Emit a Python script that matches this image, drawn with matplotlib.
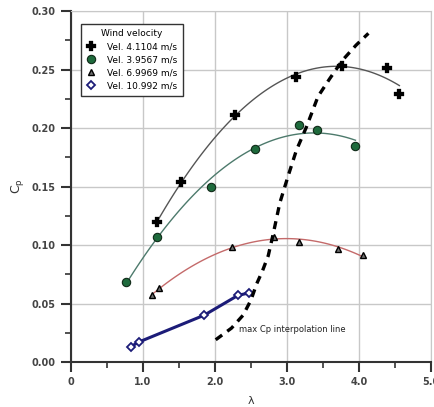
import numpy as np
import matplotlib
matplotlib.use("Agg")
import matplotlib.pyplot as plt
from matplotlib.ticker import MultipleLocator

# Data
lam_v1 = [1.20, 1.53, 2.28, 3.13, 3.77, 4.39, 4.56]
cp_v1 = [0.120, 0.154, 0.211, 0.2436, 0.253, 0.251, 0.229]

lam_v2 = [0.76, 1.20, 1.94, 2.55, 3.16, 3.42, 3.95]
cp_v2 = [0.068, 0.107, 0.150, 0.182, 0.2026, 0.198, 0.185]

lam_v3 = [1.13, 1.22, 2.23, 2.82, 3.16, 3.71, 4.05]
cp_v3 = [0.057, 0.063, 0.098, 0.107, 0.103, 0.097, 0.0915]

lam_v4 = [0.83, 0.94, 1.85, 2.32, 2.47]
cp_v4 = [0.013, 0.017, 0.040, 0.057, 0.059]

# max Cp interpolation line
lam_max = [2.01, 2.23, 2.39, 2.50, 2.58, 2.66, 2.74, 2.81, 2.90, 3.01,
           3.13, 3.27, 3.43, 3.59, 3.77, 3.96, 4.13]
cp_max = [0.019, 0.029, 0.040, 0.053, 0.067, 0.078, 0.091, 0.110, 0.136, 0.158,
          0.181, 0.201, 0.227, 0.242, 0.258, 0.271, 0.281]

labels = ["Vel. 4.1104 m/s", "Vel. 3.9567 m/s", "Vel. 6.9969 m/s", "Vel. 10.992 m/s"]


def trend(lam, cp, deg=2):
    # quadratic trend line through the measured points
    coef = np.polyfit(lam, cp, deg)
    xs = np.linspace(min(lam), max(lam), 100)
    return xs, np.polyval(coef, xs)


fig = plt.figure(figsize=(4.35, 4.07), dpi=100)
ax = fig.add_axes([0.163, 0.1106, 0.828, 0.862])

# trend lines
xs, ys = trend(lam_v1, cp_v1)
ax.plot(xs, ys, color="#555555", lw=1.0, zorder=2)
xs, ys = trend(lam_v2, cp_v2)
ax.plot(xs, ys, color="#4d7a6c", lw=1.0, zorder=2)
xs, ys = trend(lam_v3, cp_v3)
ax.plot(xs, ys, color="#c46a6a", lw=1.0, zorder=2)
ax.plot(lam_v4, cp_v4, color="#1c1c78", lw=2.2, zorder=2)

# markers
ax.plot(lam_v1, cp_v1, ls="none", marker="P", ms=7, mfc="black", mec="black",
        mew=0.2, label=labels[0], zorder=3)
ax.plot(lam_v2, cp_v2, ls="none", marker="o", ms=6, mfc="#1e6a3c", mec="#102a18",
        mew=0.8, label=labels[1], zorder=3)
ax.plot(lam_v3, cp_v3, ls="none", marker="^", ms=5, mfc="#707070", mec="black",
        mew=1.0, label=labels[2], zorder=3)
ax.plot(lam_v4, cp_v4, ls="none", marker="D", ms=4, mfc="white", mec="#1c1c78",
        mew=1.3, label=labels[3], zorder=3)

# interpolation line
ax.plot(lam_max, cp_max, color="black", lw=2.4, ls=(0, (2.4, 1.9)), zorder=4)
ax.text(2.33, 0.028, "max Cp interpolation line", fontsize=6, color="#222222",
        va="center", ha="left")

ax.set_xlim(0, 5.0)
ax.set_ylim(0, 0.30)
ax.xaxis.set_minor_locator(MultipleLocator(0.5))
ax.yaxis.set_minor_locator(MultipleLocator(0.025))
ax.set_xticks([0, 1, 2, 3, 4, 5])
ax.set_xticklabels(["0", "1.0", "2.0", "3.0", "4.0", "5.0"])
ax.set_yticks([0, 0.05, 0.10, 0.15, 0.20, 0.25, 0.30])
ax.set_yticklabels(["0.00", "0.05", "0.10", "0.15", "0.20", "0.25", "0.30"])

ax.grid(True, which="major", color="#c8c8c8", lw=1.0)
ax.set_axisbelow(True)
for s in ["top", "right"]:
    ax.spines[s].set_color("#c8c8c8")
for s in ["left", "bottom"]:
    ax.spines[s].set_color("#333333")
    ax.spines[s].set_linewidth(1.5)

ax.tick_params(which="major", length=7, width=1.5, color="#333333",
               labelsize=7, labelcolor="#444444", pad=4)
ax.tick_params(which="minor", length=4, width=1.2, color="#333333")
for t in ax.get_xticklabels() + ax.get_yticklabels():
    t.set_fontweight("bold")

ax.set_xlabel("λ", fontsize=8, color="#333333", labelpad=6)
ax.set_ylabel(r"C$_\mathrm{p}$", fontsize=9, color="#333333", labelpad=4)

leg = ax.legend(loc="upper left", bbox_to_anchor=(0.02, 0.972), title="Wind velocity",
                fontsize=6.5, title_fontsize=6.5, frameon=True, fancybox=False,
                edgecolor="#333333", framealpha=1, handlelength=1.0,
                handletextpad=1.3, borderpad=0.6, labelspacing=0.45,
                borderaxespad=0.3)
leg.get_frame().set_linewidth(1.0)

fig.savefig("out.png", dpi=100)
